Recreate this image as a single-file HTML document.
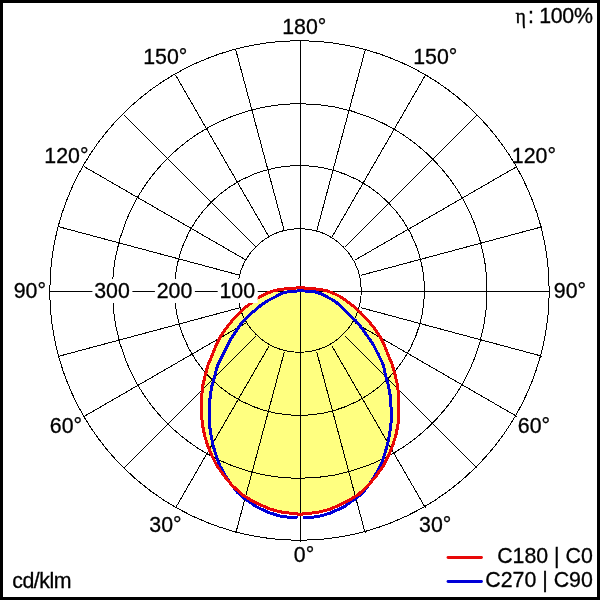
<!DOCTYPE html>
<html><head><meta charset="utf-8"><title>Polar</title>
<style>
html,body{margin:0;padding:0;background:#fff;}
body{width:600px;height:600px;overflow:hidden;position:relative;font-family:"Liberation Sans",Arial,sans-serif;}
svg{position:absolute;left:0;top:0;display:block;}
text{font-family:"Liberation Sans",Arial,sans-serif;font-size:21.33px;fill:#000;stroke:#000;stroke-width:0.3px;}
</style></head><body>
<svg width="600" height="600" viewBox="0 0 600 600">
<rect x="0" y="0" width="600" height="600" fill="#fff"/>
<path d="M300.0,287.8 L290.0,288.3 L280.0,289.5 L273.0,291.0 L267.0,293.3 L261.0,296.2 L258.0,298.0 L251.0,303.3 L245.0,307.6 L240.0,312.5 L235.0,317.8 L232.0,320.8 L224.8,330.0 L220.0,337.5 L216.2,345.0 L212.3,355.0 L208.0,365.0 L205.3,375.0 L202.9,385.0 L201.8,395.0 L201.5,405.0 L201.5,415.0 L202.5,425.0 L204.5,435.0 L207.5,445.0 L211.5,455.0 L216.5,465.0 L223.5,475.0 L232.0,485.3 L242.0,494.5 L252.0,500.7 L260.0,504.7 L270.0,509.0 L280.0,511.8 L290.0,513.2 L297.0,513.7 L300.0,515.0 L303.4,513.7 L310.4,513.2 L320.4,511.8 L330.4,509.0 L340.4,504.7 L348.4,500.7 L358.4,494.5 L368.4,485.3 L376.9,475.0 L383.9,465.0 L388.9,455.0 L392.9,445.0 L395.9,435.0 L397.9,425.0 L398.9,415.0 L398.9,405.0 L398.6,395.0 L397.5,385.0 L395.1,375.0 L392.4,365.0 L388.1,355.0 L384.2,345.0 L380.4,337.5 L375.6,330.0 L368.4,320.8 L365.4,317.8 L360.4,312.5 L355.4,307.6 L349.4,303.3 L342.4,298.0 L339.4,296.2 L333.4,293.3 L327.4,291.0 L320.4,289.5 L310.4,288.3 L300.4,287.8 Z" fill="#ffff80" stroke="none"/>
<g fill="none" stroke="#000" stroke-width="1" shape-rendering="crispEdges">
<circle cx="299.5" cy="290.5" r="249.7"/>
<circle cx="299.75" cy="291" r="187.27"/>
<circle cx="299.5" cy="290.5" r="124.92"/>
<circle cx="299.5" cy="290.5" r="61.74"/>
<line x1="316.68" y1="351.87" x2="365.20" y2="532.98"/>
<line x1="331.75" y1="345.63" x2="425.50" y2="508.01"/>
<line x1="344.69" y1="335.69" x2="477.28" y2="468.28"/>
<line x1="354.63" y1="322.75" x2="517.01" y2="416.50"/>
<line x1="360.87" y1="307.68" x2="541.98" y2="356.20"/>
<line x1="360.87" y1="275.32" x2="541.98" y2="226.80"/>
<line x1="354.63" y1="260.25" x2="517.01" y2="166.50"/>
<line x1="344.69" y1="247.31" x2="477.28" y2="114.72"/>
<line x1="331.75" y1="237.37" x2="425.50" y2="74.99"/>
<line x1="316.68" y1="231.13" x2="365.20" y2="50.02"/>
<line x1="284.32" y1="231.13" x2="235.80" y2="50.02"/>
<line x1="269.25" y1="237.37" x2="175.50" y2="74.99"/>
<line x1="256.31" y1="247.31" x2="123.72" y2="114.72"/>
<line x1="246.37" y1="260.25" x2="83.99" y2="166.50"/>
<line x1="240.13" y1="275.32" x2="59.02" y2="226.80"/>
<line x1="240.13" y1="307.68" x2="59.02" y2="356.20"/>
<line x1="246.37" y1="322.75" x2="83.99" y2="416.50"/>
<line x1="256.31" y1="335.69" x2="123.72" y2="468.28"/>
<line x1="269.25" y1="345.63" x2="175.50" y2="508.01"/>
<line x1="284.32" y1="351.87" x2="235.80" y2="532.98"/>
<line x1="300.5" y1="40.5" x2="300.5" y2="542.0"/>
<line x1="49.5" y1="291.5" x2="549.5" y2="291.5"/>
</g>
<path d="M300.0,290.7 L290.0,291.6 L285.0,292.2 L280.0,294.2 L275.0,297.0 L270.0,299.5 L265.0,302.3 L260.0,306.0 L255.0,310.2 L250.0,314.6 L245.0,319.3 L241.0,323.9 L236.8,330.0 L230.3,340.0 L227.6,345.0 L222.8,355.0 L217.7,365.0 L215.0,375.0 L212.1,385.0 L210.3,395.0 L209.5,405.0 L209.0,415.0 L209.5,425.0 L211.0,435.0 L213.0,445.0 L216.0,455.0 L219.5,465.0 L225.0,475.0 L231.0,484.0 L237.0,492.0 L245.0,499.0 L250.0,502.0 L255.0,506.0 L260.0,508.5 L270.0,513.0 L280.0,516.0 L290.0,517.5 L297.5,518.0" fill="none" stroke="#0000d8" stroke-width="3" stroke-linejoin="round" shape-rendering="crispEdges"/>
<path d="M300.4,290.7 L310.4,291.4 L315.4,292.0 L320.4,293.6 L325.4,296.0 L330.4,298.7 L335.4,301.6 L340.4,306.0 L345.4,310.9 L350.4,315.8 L355.4,320.5 L359.4,325.1 L363.8,331.0 L370.6,340.7 L373.7,345.5 L378.6,355.0 L383.4,365.0 L385.4,375.0 L388.3,385.0 L390.1,395.0 L390.9,405.0 L391.4,415.0 L390.9,425.0 L389.4,435.0 L387.4,445.0 L384.4,455.0 L380.9,465.0 L375.4,475.0 L369.4,484.0 L363.4,492.0 L355.4,499.0 L350.4,502.0 L345.4,506.0 L340.4,508.5 L330.4,513.0 L320.4,516.0 L310.4,517.5 L302.9,518.0" fill="none" stroke="#0000d8" stroke-width="3" stroke-linejoin="round" shape-rendering="crispEdges"/>
<path d="M300.0,287.8 L290.0,288.3 L280.0,289.5 L273.0,291.0 L267.0,293.3 L261.0,296.2 L258.0,298.0 L251.0,303.3 L245.0,307.6 L240.0,312.5 L235.0,317.8 L232.0,320.8 L224.8,330.0 L220.0,337.5 L216.2,345.0 L212.3,355.0 L208.0,365.0 L205.3,375.0 L202.9,385.0 L201.8,395.0 L201.5,405.0 L201.5,415.0 L202.5,425.0 L204.5,435.0 L207.5,445.0 L211.5,455.0 L216.5,465.0 L223.5,475.0 L232.0,485.3 L242.0,494.5 L252.0,500.7 L260.0,504.7 L270.0,509.0 L280.0,511.8 L290.0,513.2 L297.0,513.7 L300.0,515.0 L303.4,513.7 L310.4,513.2 L320.4,511.8 L330.4,509.0 L340.4,504.7 L348.4,500.7 L358.4,494.5 L368.4,485.3 L376.9,475.0 L383.9,465.0 L388.9,455.0 L392.9,445.0 L395.9,435.0 L397.9,425.0 L398.9,415.0 L398.9,405.0 L398.6,395.0 L397.5,385.0 L395.1,375.0 L392.4,365.0 L388.1,355.0 L384.2,345.0 L380.4,337.5 L375.6,330.0 L368.4,320.8 L365.4,317.8 L360.4,312.5 L355.4,307.6 L349.4,303.3 L342.4,298.0 L339.4,296.2 L333.4,293.3 L327.4,291.0 L320.4,289.5 L310.4,288.3 L300.4,287.8" fill="none" stroke="#e80808" stroke-width="3" stroke-linejoin="round" shape-rendering="crispEdges"/>
<g>
<rect x="92.4" y="279" width="40" height="24" fill="#fff"/>
<rect x="154.9" y="279" width="40" height="24" fill="#fff"/>
<rect x="217.7" y="279" width="40" height="24" fill="#fff"/>
<text x="94.2" y="298.2">300</text>
<text x="156.7" y="298.2">200</text>
<text x="219.5" y="298.2">100</text>
<text x="282.2" y="34">180°</text>
<text x="143.2" y="64">150°</text>
<text x="413.2" y="64">150°</text>
<text x="44.3" y="163">120°</text>
<text x="511.8" y="163">120°</text>
<text x="13.7" y="298">90°</text>
<text x="553.8" y="298">90°</text>
<text x="49.8" y="433">60°</text>
<text x="517.8" y="433">60°</text>
<text x="149.3" y="532">30°</text>
<text x="419.1" y="532">30°</text>
<text x="293.8" y="562">0°</text>
<text x="515.5" y="22.5"><tspan font-family="Liberation Serif, serif" font-size="20px">η</tspan><tspan x="528" letter-spacing="-0.3">: 100%</tspan></text>
<text x="12.2" y="587.5" letter-spacing="-0.45">cd/klm</text>
<line x1="448" y1="557.5" x2="481.5" y2="557.5" stroke="#e80808" stroke-width="2.8" stroke-linecap="round"/>
<line x1="448" y1="581.5" x2="481.5" y2="581.5" stroke="#0000d8" stroke-width="2.8" stroke-linecap="round"/>
<text x="592.8" y="562.7" text-anchor="end">C180 | C0</text>
<text x="592.8" y="586.9" text-anchor="end">C270 | C90</text>
</g>
<rect x="1.5" y="1.5" width="597" height="597" fill="none" stroke="#000" stroke-width="3"/>
</svg>
</body></html>
